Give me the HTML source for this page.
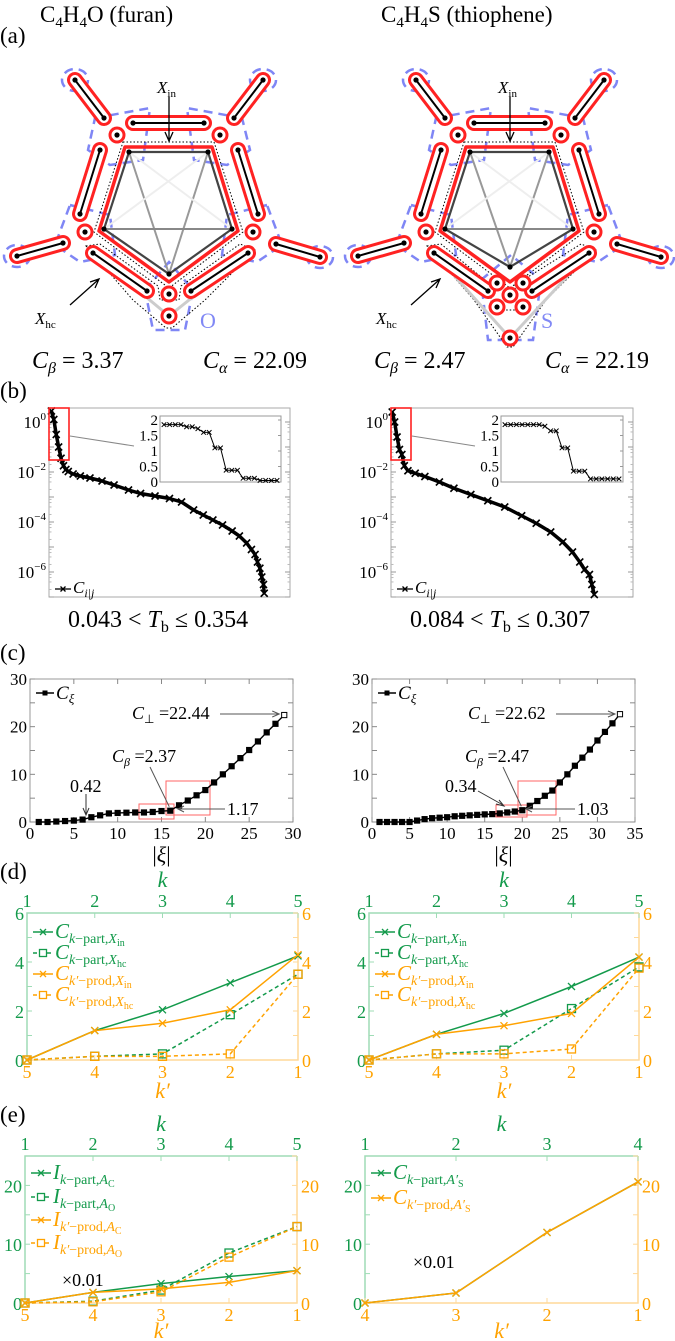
<!DOCTYPE html>
<html><head><meta charset="utf-8"><title>furan thiophene figure</title>
<style>
html,body{margin:0;padding:0;background:#fff;}
svg{display:block;font-family:"Liberation Serif",serif;}
</style></head>
<body>
<svg id="fig" width="675" height="1341" viewBox="0 0 675 1341" xmlns="http://www.w3.org/2000/svg">
<g id="titles" font-size="23" fill="#000">
<text x="40" y="22">C<tspan font-size="15" dy="5">4</tspan><tspan dy="-5">H</tspan><tspan font-size="15" dy="5">4</tspan><tspan dy="-5">O (furan)</tspan></text>
<text x="381" y="22">C<tspan font-size="15" dy="5">4</tspan><tspan dy="-5">H</tspan><tspan font-size="15" dy="5">4</tspan><tspan dy="-5">S (thiophene)</tspan></text>
<text x="0" y="43">(a)</text>
<text x="0" y="398">(b)</text>
<text x="0" y="660" >(c)</text>
<text x="0" y="879">(d)</text>
<text x="0" y="1122">(e)</text>
</g>
<g font-size="24">
<text x="32" y="368"><tspan font-style="italic">C</tspan><tspan font-style="italic" font-size="16" dy="5">β</tspan><tspan dy="-5"> = 3.37</tspan></text>
<text x="203" y="368"><tspan font-style="italic">C</tspan><tspan font-style="italic" font-size="16" dy="5">α</tspan><tspan dy="-5"> = 22.09</tspan></text>
<text x="374" y="368"><tspan font-style="italic">C</tspan><tspan font-style="italic" font-size="16" dy="5">β</tspan><tspan dy="-5"> = 2.47</tspan></text>
<text x="545" y="368"><tspan font-style="italic">C</tspan><tspan font-style="italic" font-size="16" dy="5">α</tspan><tspan dy="-5"> = 22.19</tspan></text>
<text x="68" y="627">0.043 &lt; <tspan font-style="italic">T</tspan><tspan font-size="16" dy="5">b</tspan><tspan dy="-5"> ≤ 0.354</tspan></text>
<text x="410" y="627">0.084 &lt; <tspan font-style="italic">T</tspan><tspan font-size="16" dy="5">b</tspan><tspan dy="-5"> ≤ 0.307</tspan></text>
</g>
<g id="mols"></g>
<g id="charts"></g>
</svg>
<script>
// ---------- chart data ----------
const bRankL = [1,2,3,4,5,6,7,8,10,13,17,22,27,33,38,44,50,55,60,64,68,72,76,79,82,84,85.5,86.5,87.5,88.3,89,89.3];
const bLogL  = [0.44,0.1,-0.5,-1.0,-1.45,-1.75,-1.9,-1.98,-2.08,-2.16,-2.24,-2.36,-2.52,-2.72,-2.86,-2.96,-3.06,-3.2,-3.52,-3.72,-3.92,-4.12,-4.36,-4.56,-4.84,-5.1,-5.3,-5.6,-5.85,-6.2,-6.5,-6.85];
const bRankR = [0.5,1.5,2.5,3.5,4.5,5.5,7,10,14,20,26,33,40,47,54,60,66,71,75,78,80,82,83,84];
const bLogR  = [0.4,0.0,-0.6,-1.1,-1.3,-1.75,-1.95,-2.05,-2.18,-2.4,-2.65,-2.9,-3.15,-3.4,-3.75,-4.05,-4.4,-4.8,-5.2,-5.6,-5.9,-6.1,-6.5,-6.9];
const insetL = [1.85,1.85,1.85,1.85,1.78,1.78,1.72,1.6,1.6,1.1,1.1,0.38,0.38,0.38,0.12,0.12,0.12,0.05,0.05,0.05,0.05];
const insetR = [1.85,1.85,1.85,1.85,1.85,1.85,1.85,1.8,1.65,1.65,1.1,1.1,0.35,0.35,0.35,0.1,0.1,0.1,0.1,0.1,0.1];
const bYTicks = [0,-2,-4,-6];
const insetTicks = [0,0.5,1,1.5,2];
const cXiL = [0,0,0.1,0.2,0.3,0.5,1.0,1.4,1.8,1.9,1.95,2.0,2.0,2.1,2.3,2.37,3.5,4.5,5.6,6.7,8.3,10.0,11.7,13.4,15.1,16.9,18.8,20.6,22.44];
const cXiR = [0,0,0,0,0,0.3,0.6,0.8,0.9,1.0,1.2,1.3,1.4,1.5,1.6,1.65,1.8,2.0,2.2,2.47,3.4,4.4,5.5,6.6,8.3,10.0,11.8,13.5,15.2,17.1,18.9,20.7,22.62];
const cXTicksL = [0,5,10,15,20,25,30];
const cXTicksR = [0,5,10,15,20,25,30,35];
const cYTicks = [0,10,20,30];
const dK = [1,2,3,4,5];
const dL_partIn = [0,1.2,2.05,3.15,4.25];
const dL_partHc = [0,0.15,0.25,1.85,3.5];
const dL_prodIn = [0,1.2,1.5,2.05,4.3];
const dL_prodHc = [0,0.15,0.15,0.25,3.5];
const dR_partIn = [0,1.05,1.9,3.0,4.2];
const dR_partHc = [0,0.25,0.4,2.1,3.8];
const dR_prodIn = [0,1.05,1.4,1.9,4.2];
const dR_prodHc = [0,0.25,0.25,0.45,3.75];
const dYTicks = [0,2,4,6];
const eK5 = [1,2,3,4,5];
const eL_partC = [0,1.8,3.3,4.5,5.5];
const eL_partO = [0,0.3,2.2,8.5,13];
const eL_prodC = [0,1.8,2.4,3.5,5.5];
const eL_prodO = [0,0.2,1.9,7.8,13];
const eK4 = [1,2,3,4];
const eR_part = [0,1.7,12,20.6];
const eR_prod = [0,1.7,12,20.6];
const eYTicks = [0,10,20];

const NS='http://www.w3.org/2000/svg';
const GREEN='#139a4b', ORANGE='#ffa200', GL='#9fdcb6', OL='#ffd999';
function mk(tag, attrs, parent){const e=document.createElementNS(NS,tag);for(const k in attrs)e.setAttribute(k,attrs[k]);parent.appendChild(e);return e;}
const charts=document.getElementById('charts');
const mols=document.getElementById('mols');

function capsule(g,x1,y1,x2,y2){
  let e=mk('line',{x1,y1,x2,y2,stroke:'#f22',"stroke-width":16,"stroke-linecap":'round'},g);
  
  
  e=mk('line',{x1,y1,x2,y2,stroke:'#fff',"stroke-width":10,"stroke-linecap":'round'},g);
  
  
  e=mk('line',{x1,y1,x2,y2,stroke:'#000',"stroke-width":2},g);
  
  
  [[x1,y1],[x2,y2]].forEach(p=>{const d=mk('circle',{cx:p[0],cy:p[1],r:2.6,fill:'#000'},g);
    
    });
}
function atomRing(g,x,y){
  let e=mk('circle',{cx:x,cy:y,r:7,fill:'#fff',stroke:'#f22',"stroke-width":3},g);
  
  
  e=mk('circle',{cx:x,cy:y,r:2.6,fill:'#000'},g);
  
  
}
function drawMol(dx,isS){
  const g=mk('g',{transform:`translate(${dx},0)`},mols);
  
  
  const P=[[129,152],[208,152],[232,229],[169,isS?267:274],[104,229]];
  const blue={fill:'none',stroke:'#7f86f5',"stroke-width":2.5,"stroke-dasharray":'9,6'};
  [[75,80,13,11],[263,80,13,11],[17,256,13,11],[320,257,13,11]].forEach(a=>{
    const e=mk('ellipse',Object.assign({cx:a[0],cy:a[1],rx:a[2],ry:a[3]},blue),g);
    
    });
  ['M95,118 L150,108 L143,160 L110,165 L88,150 Z','M242,118 L187,108 L194,160 L227,165 L250,150 Z',
   'M70,205 L110,215 L115,255 L80,262 L55,245 Z','M267,205 L227,215 L222,255 L257,262 L282,245 Z',
   isS?'M140,280 L170,255 L200,280 L192,340 L147,340 Z':'M145,290 L169,262 L193,290 L185,330 L153,330 Z'].forEach(d=>{
    const e=mk('path',Object.assign({d},blue),g);
    
    });
  let e=mk('polygon',{points:'123,142 214,142 243,232 169,288 94,232',fill:'none',stroke:'#000',"stroke-width":1,"stroke-dasharray":'1.5,2'},g);
  
  
  e=mk('polygon',{points:isS?'86,246 100,244 150,285 150,310 176,310 174,285 240,244 255,250 205,300 172,347 166,347 133,300':'86,246 100,244 158,286 160,300 179,300 181,286 240,244 255,250 205,300 172,328 166,328 133,300',fill:'none',stroke:'#000',"stroke-width":1,"stroke-dasharray":'1.5,2'},g);
  
  
  [[0,3,'#999'],[1,3,'#999'],[4,2,'#888'],[0,2,'#eee'],[1,4,'#eee']].forEach(a=>{
    const l=mk('line',{x1:P[a[0]][0],y1:P[a[0]][1],x2:P[a[1]][0],y2:P[a[1]][1],stroke:a[2],"stroke-width":2},g);
    
    });
  e=mk('polygon',{points:'125,147 212,147 238,231 169,282 99,231',fill:'none',stroke:'#f22',"stroke-width":3.5,"stroke-linejoin":'round'},g);
  
  
  e=mk('polygon',{points:P.map(p=>p.join(',')).join(' '),fill:'none',stroke:'#444',"stroke-width":2.2},g);
  
  
  P.forEach(p=>{const d=mk('circle',{cx:p[0],cy:p[1],r:2.6,fill:'#000'},g);
    
    });
  [[93,253,169,316],[248,253,169,316]].forEach(a=>{
    const l=mk('line',{x1:a[0],y1:a[1],x2:a[2],y2:isS?338:a[3],stroke:'#ccc',"stroke-width":3},g);
    
    });
  capsule(g,75,80,104,118); capsule(g,263,80,234,118); capsule(g,133,123,204,123);
  capsule(g,100,150,80,214); capsule(g,238,150,258,214); capsule(g,17,256,63,243);
  capsule(g,320,257,276,244); capsule(g,93,253,147,291); capsule(g,248,253,191,291);
  atomRing(g,117,135); atomRing(g,220,135); atomRing(g,85,232); atomRing(g,253,232);
  if(isS){ [[156,283],[182,283],[169,295],[156,307],[182,307],[169,338]].forEach(p=>atomRing(g,p[0],p[1])); }
  else { atomRing(g,169,294); atomRing(g,169,316); }
  e=mk('text',{x:157,y:93,"font-size":17,"font-style":'italic'},g);
  e.innerHTML='X<tspan font-size="11" font-style="normal" dy="4">in</tspan>';
  
  
  e=mk('path',{d:'M169,97 L169,139 M165,132 L169,141 L173,132',stroke:'#000',fill:'none',"stroke-width":1.3},g);
  
  
  e=mk('text',{x:35,y:324,"font-size":17,"font-style":'italic'},g);
  e.innerHTML='X<tspan font-size="11" font-style="normal" dy="4">hc</tspan>';
  
  
  e=mk('path',{d:'M70,305 L98,280 M90,282 L99,279 L95,288',stroke:'#000',fill:'none',"stroke-width":1.3},g);
  
  
  e=mk('text',{x:200,y:328,"font-size":22,fill:'#8088f5'},g);
  e.textContent=isS?'S':'O';
  
  
}
drawMol(0,false);
drawMol(341,true);

function txt(parent,x,y,s,attrs){const e=mk('text',Object.assign({x,y},attrs||{}),parent);e.innerHTML=s;return e;}
function crossMark(parent,x,y,s,color,w){return mk('path',{d:`M${x-s},${y-s}L${x+s},${y+s}M${x-s},${y+s}L${x+s},${y-s}`,stroke:color,"stroke-width":w||1.3,fill:'none'},parent);}

function drawB(name,x0,x1,ranks,logs,inset,ix0,ix1){
  const g=mk('g',{},charts);
  
  
  const y0=408,y1=597;
  const sx=r=>x0+r*(x1-x0)/100, sy=l=>422-25*l;
  let e=mk('rect',{x:x0,y:y0,width:x1-x0,height:y1-y0,fill:'none',stroke:'#aaa',"stroke-width":1},g);
  
  
  for(let d=0;d>=-7;d--){
    [x0,x1].forEach((xx,i)=>{const l=mk('line',{x1:xx,x2:xx+(i?-5:5),y1:sy(d),y2:sy(d),stroke:'#999'},g);
      
      });
    for(let m=2;m<10;m+=2){const yy=sy(d-1+Math.log10(m)); if(yy>y0&&yy<y1){[x0,x1].forEach((xx,i)=>{const l=mk('line',{x1:xx,x2:xx+(i?-2.5:2.5),y1:yy,y2:yy,stroke:'#bbb'},g);
      
      });}}
  }
  bYTicks.forEach(t=>{const l=txt(g,x0-3,sy(t)+6,`10<tspan font-size="11" dy="-8">${t===0?'0':'−'+(-t)}</tspan>`,{"font-size":17,"text-anchor":'end'});
    
    });
  e=mk('polyline',{points:ranks.map((r,i)=>`${sx(r)},${sy(logs[i])}`).join(' '),fill:'none',stroke:'#000',"stroke-width":3.5,"stroke-linejoin":'round'},g);
  
  
  ranks.forEach((r,i)=>{const m=crossMark(g,sx(r),sy(logs[i]),3.5,'#000',1.6);
    
    });
  e=mk('line',{x1:x0+6,x2:x0+22,y1:589,y2:589,stroke:'#000',"stroke-width":1.3},g);
  
  
  e=crossMark(g,x0+14,589,2.5,'#000');
  
  
  e=txt(g,x0+24,593,'<tspan font-style="italic">C</tspan><tspan font-size="12" font-style="italic" dy="4">i|j</tspan>',{"font-size":17});
  
  
  e=mk('rect',{x:x0,y:408,width:20,height:52,fill:'none',stroke:'#f22',"stroke-width":1.6},g);
  
  
  e=mk('line',{x1:x0+21,y1:436,x2:ix0-26,y2:446,stroke:'#888',"stroke-width":1},g);
  
  
  const iy0=416,iy1=482, isy=v=>482-31*v, isx=i=>ix0+4+i*(ix1-ix0-8)/(inset.length-1);
  e=mk('rect',{x:ix0,y:iy0,width:ix1-ix0,height:iy1-iy0,fill:'#fff',stroke:'#999',"stroke-width":1},g);
  
  
  insetTicks.forEach(t=>{const l=txt(g,ix0-2,isy(t)+5,String(t),{"font-size":15,"text-anchor":'end'});
    
    
    const k=mk('line',{x1:ix1,x2:ix1-3,y1:isy(t),y2:isy(t),stroke:'#999'},g);
    
    });
  e=mk('polyline',{points:inset.map((v,i)=>`${isx(i)},${isy(v)}`).join(' '),fill:'none',stroke:'#000',"stroke-width":1},g);
  
  
  inset.forEach((v,i)=>{const m=crossMark(g,isx(i),isy(v),2.3,'#000',1);
    
    });
}
drawB('cij-chart-furan',49,290,bRankL,bLogL,insetL,160,281);
drawB('cij-chart-thiophene',391,633,bRankR,bLogR,insetR,501,623);

function drawC(name,x0,x1,xmax,vals,xticks,ann){
  const g=mk('g',{},charts);
  
  
  const y0=679,y1=822, sx=v=>x0+v*(x1-x0)/xmax, sy=v=>y1-v*(y1-y0)/30;
  let e=mk('rect',{x:x0,y:y0,width:x1-x0,height:y1-y0,fill:'none',stroke:'#999',"stroke-width":1},g);
  
  
  xticks.forEach(t=>{const l=txt(g,sx(t),839,String(t),{"font-size":17,"text-anchor":'middle'});
    
    
    [y0,y1].forEach((yy,i)=>{const k=mk('line',{x1:sx(t),x2:sx(t),y1:yy,y2:yy+(i?-5:5),stroke:'#888'},g);
      
      });});
  cYTicks.forEach(t=>{const l=txt(g,x0-3,sy(t)+6,String(t),{"font-size":17,"text-anchor":'end'});
    
    });
  for(let t=0;t<=30;t+=5){[x0,x1].forEach((xx,i)=>{const k=mk('line',{x1:xx,x2:xx+(i?-5:5),y1:sy(t),y2:sy(t),stroke:'#888'},g);
    
    });}
  e=txt(g,(x0+x1)/2,862,'|<tspan font-style="italic">ξ</tspan>|',{"font-size":22,"text-anchor":'middle'});
  
  
  ann.boxes.forEach(b=>{const r=mk('rect',{x:b[0],y:b[1],width:b[2],height:b[3],fill:'none',stroke:'#f66',"stroke-width":1},g);
    
    });
  e=mk('polyline',{points:vals.map((v,i)=>`${sx(i+1)},${sy(v)}`).join(' '),fill:'none',stroke:'#000',"stroke-width":1.4},g);
  
  
  vals.forEach((v,i)=>{const last=i===vals.length-1;
    const m=mk('rect',{x:sx(i+1)-2.6,y:sy(v)-2.6,width:5.2,height:5.2,fill:last?'#fff':'#000',stroke:'#000',"stroke-width":1},g);
    
    });
  e=mk('line',{x1:x0+6,x2:x0+24,y1:693,y2:693,stroke:'#000',"stroke-width":1.4},g);
  
  
  e=mk('rect',{x:x0+12.5,y:690.5,width:5,height:5,fill:'#000'},g);
  
  
  e=txt(g,x0+26,699,'<tspan font-style="italic">C</tspan><tspan font-size="13" font-style="italic" dy="4">ξ</tspan>',{"font-size":19});
  
  
  const last=vals.length, vEnd=vals[last-1];
  e=txt(g,ann.perpX,719,`<tspan font-style="italic">C</tspan><tspan font-size="12" dy="4">⊥</tspan><tspan dy="-4"> =${vEnd.toFixed(2)}</tspan>`,{"font-size":18});
  
  
  e=mk('path',{d:`M${ann.perpX+88},714 L${sx(last)-6},714 M${sx(last)-12},711 L${sx(last)-5},714 L${sx(last)-12},717`,stroke:'#555',fill:'none',"stroke-width":1},g);
  
  
  e=txt(g,ann.betaX,762,`<tspan font-style="italic">C</tspan><tspan font-size="12" font-style="italic" dy="4">β</tspan><tspan dy="-4"> =${ann.beta}</tspan>`,{"font-size":18});
  
  
  e=mk('line',{x1:ann.betaX+38,y1:767,x2:sx(ann.betaIdx)-1,y2:sy(vals[ann.betaIdx-1])-4,stroke:'#555',"stroke-width":1},g);
  
  
  e=txt(g,ann.smallX,792,ann.small,{"font-size":18});
  
  
  e=mk('path',{d:ann.smallArrow,stroke:'#333',fill:'none',"stroke-width":1},g);
  
  
  e=txt(g,ann.bigX,815,ann.big,{"font-size":18});
  
  
  e=mk('path',{d:`M${ann.bigX-2},809 L${ann.bigTo},809 M${ann.bigTo+6},806 L${ann.bigTo},809 L${ann.bigTo+6},812`,stroke:'#555',fill:'none',"stroke-width":1},g);
  
  
}
drawC('cxi-chart-furan',30,293,30,cXiL,cXTicksL,{perpX:132,betaX:112,beta:'2.37',betaIdx:16,small:'0.42',smallX:70,
  smallArrow:'M86,794 L86,814 M83,808 L86,815 L89,808',big:'1.17',bigX:227,bigTo:178,boxes:[[139,804,35,15],[166,781,44,34]]});
drawC('cxi-chart-thiophene',372,635,35,cXiR,cXTicksR,{perpX:468,betaX:465,beta:'2.47',betaIdx:20,small:'0.34',smallX:445,
  smallArrow:'M478,791 L503,805 M496,804 L504,806 L499,800',big:'1.03',bigX:577,bigTo:526,boxes:[[496,805,31,12],[518,781,38,34]]});

function drawDual(name,x0,x1,y0,y1,ymax,yticks,minorStep,kvals,series,legend,titleY,kTitleY,kpTitleY,note){
  const g=mk('g',{},charts);
  
  
  const n=kvals.length, sx=k=>x0+(k-1)*(x1-x0)/(n-1), sxp=kp=>sx(n+1-kp), sy=v=>y1-v*(y1-y0)/ymax;
  let e=mk('path',{d:`M${x0},${y1}L${x0},${y0}L${x1},${y0}`,fill:'none',stroke:GL,"stroke-width":1.5},g);
  
  
  e=mk('path',{d:`M${x0},${y1}L${x1},${y1}L${x1},${y0}`,fill:'none',stroke:OL,"stroke-width":1.5},g);
  
  
  kvals.forEach(k=>{
    let l=txt(g,sx(k),y0-6,String(k),{"font-size":18,"text-anchor":'middle',fill:GREEN});
    
    
    l=txt(g,sx(k),y1+18,String(n+1-k),{"font-size":18,"text-anchor":'middle',fill:ORANGE});
    
    
    l=mk('line',{x1:sx(k),x2:sx(k),y1:y0,y2:y0+5,stroke:GL},g);
    
    
    l=mk('line',{x1:sx(k),x2:sx(k),y1:y1,y2:y1-5,stroke:OL},g);
    
    });
  yticks.forEach(t=>{
    let l=txt(g,x0-3,sy(t)+7,String(t),{"font-size":18,"text-anchor":'end',fill:GREEN});
    
    
    l=txt(g,x1+4,sy(t)+7,String(t),{"font-size":18,fill:ORANGE});
    
    });
  for(let t=0;t<=ymax;t+=minorStep){
    let l=mk('line',{x1:x0,x2:x0+5,y1:sy(t),y2:sy(t),stroke:GL},g);
    
    
    l=mk('line',{x1:x1,x2:x1-5,y1:sy(t),y2:sy(t),stroke:OL},g);
    
    }
  e=txt(g,(x0+x1)/2,kTitleY,'k',{"font-size":22,"font-style":'italic',"text-anchor":'middle',fill:GREEN});
  
  
  e=txt(g,(x0+x1)/2,kpTitleY,'k′',{"font-size":22,"font-style":'italic',"text-anchor":'middle',fill:ORANGE});
  
  
  series.forEach(s=>{
    const pts=s.vals.map((v,i)=>[s.prime?sxp(n-i):sx(kvals[i]),sy(v)]);
    const l=mk('polyline',{points:pts.map(p=>p.join(',')).join(' '),fill:'none',stroke:s.color,"stroke-width":1.5,"stroke-dasharray":s.dash?'4,3':'none'},g);
    
    
    pts.forEach(p=>{let m;
      if(s.square){m=mk('rect',{x:p[0]-4,y:p[1]-4,width:8,height:8,fill:'none',stroke:s.color,"stroke-width":1.3},g);}
      else{m=crossMark(g,p[0],p[1],3.5,s.color,1.3);}
      
      });
  });
  legend.forEach(lg=>{
    const y=lg.y;
    let l=mk('line',{x1:x0+6,x2:x0+26,y1:y,y2:y,stroke:lg.color,"stroke-width":1.5,"stroke-dasharray":lg.dash?'4,3':'none'},g);
    
    
    l=lg.square?mk('rect',{x:x0+12.5,y:y-3.5,width:7,height:7,fill:'#fff',stroke:lg.color,"stroke-width":1.3},g):crossMark(g,x0+16,y,3,lg.color,1.3);
    
    
    l=txt(g,x0+28,y+6,lg.label,{"font-size":21,fill:lg.color});
    
    });
  if(note){e=txt(g,note[0],note[1],'×0.01',{"font-size":18});
    
    }
}
const Ci='<tspan font-style="italic">C</tspan>', Ii='<tspan font-style="italic">I</tspan>';
function lab(base,k,rest,sb){return `${base}<tspan font-size="14" dy="5"><tspan font-style="italic">${k}</tspan>−${rest},<tspan font-style="italic">${sb[0]}</tspan><tspan font-size="10" dy="3">${sb[1]}</tspan></tspan>`;}
function dLegend(){return [
  {y:932,color:GREEN,label:lab(Ci,'k','part',['X','in'])},
  {y:953,color:GREEN,dash:1,square:1,label:lab(Ci,'k','part',['X','hc'])},
  {y:974,color:ORANGE,label:lab(Ci,'k′','prod',['X','in'])},
  {y:995,color:ORANGE,dash:1,square:1,label:lab(Ci,'k′','prod',['X','hc'])}];}
function dSeries(a,b,c,d){return [
  {name:'k-part-xin',vals:a,color:GREEN},{name:'k-part-xhc',vals:b,color:GREEN,dash:1,square:1},
  {name:'kprime-prod-xin',vals:c,color:ORANGE,prime:1},{name:'kprime-prod-xhc',vals:d,color:ORANGE,prime:1,dash:1,square:1}];}
drawDual('k-part-chart-furan',27,298,913,1060,6,dYTicks,1,dK,dSeries(dL_partIn,dL_partHc,dL_prodIn,dL_prodHc),dLegend(),0,887,1098);
drawDual('k-part-chart-thiophene',369,639,913,1060,6,dYTicks,1,dK,dSeries(dR_partIn,dR_partHc,dR_prodIn,dR_prodHc),dLegend(),0,887,1098);
drawDual('information-chart-furan',25,297,1156,1303,25,eYTicks,5,eK5,[
  {name:'i-part-ac',vals:eL_partC,color:GREEN},{name:'i-part-ao',vals:eL_partO,color:GREEN,dash:1,square:1},
  {name:'i-prod-ac',vals:eL_prodC,color:ORANGE,prime:1},{name:'i-prod-ao',vals:eL_prodO,color:ORANGE,prime:1,dash:1,square:1}],
  [{y:1173,color:GREEN,label:lab(Ii,'k','part',['A','C'])},
   {y:1197,color:GREEN,dash:1,square:1,label:lab(Ii,'k','part',['A','O'])},
   {y:1220,color:ORANGE,label:lab(Ii,'k′','prod',['A','C'])},
   {y:1243,color:ORANGE,dash:1,square:1,label:lab(Ii,'k′','prod',['A','O'])}],0,1131,1338,[62,1286]);
drawDual('correlation-chart-thiophene',365,638,1156,1303,25,eYTicks,5,eK4,[
  {name:'c-part-as',vals:eR_part,color:GREEN},{name:'c-prod-as',vals:eR_prod,color:ORANGE,prime:1}],
  [{y:1173,color:GREEN,label:lab(Ci,'k','part',['A′','S'])},
   {y:1198,color:ORANGE,label:lab(Ci,'k′','prod',['A′','S'])}],0,1131,1338,[413,1268]);
</script>
</body></html>
